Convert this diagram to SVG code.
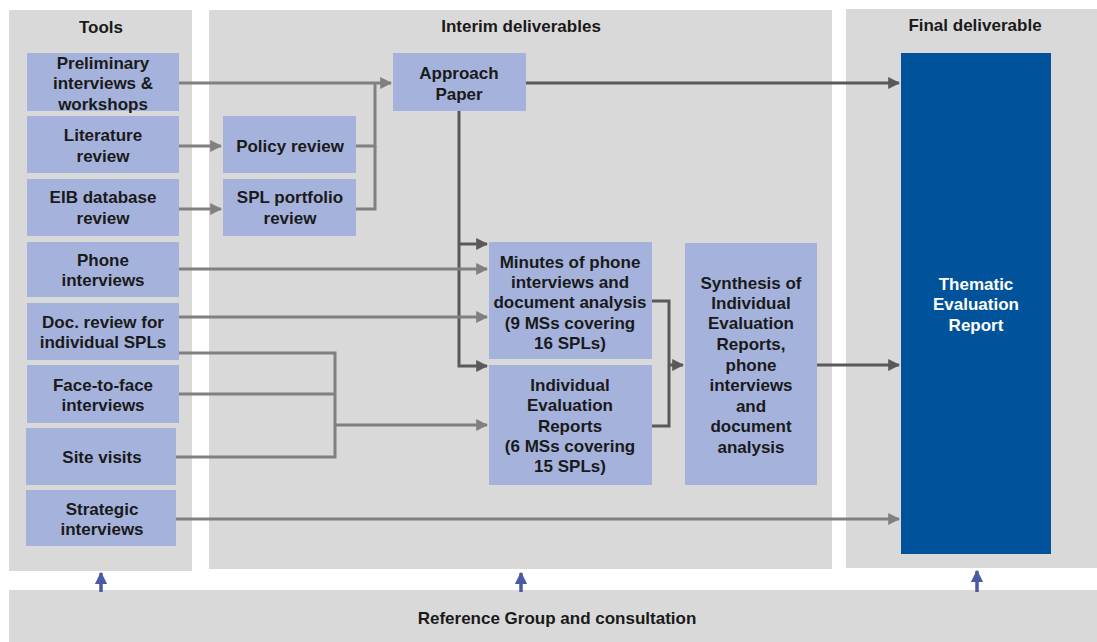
<svg xmlns="http://www.w3.org/2000/svg" width="1097" height="642" viewBox="0 0 1097 642">
<defs>
<style>
.panel{fill:#d9d9d9}
.box{fill:#a5b3dc}
.t{font-family:"Liberation Sans",Arial,sans-serif;font-weight:bold;font-size:17px;fill:#1a1a1a;text-anchor:middle;dominant-baseline:central}
.w{fill:#ffffff}
.lc{fill:none;stroke:#808080;stroke-width:3}
.dc{fill:none;stroke:#595959;stroke-width:3}
.up{fill:none;stroke:#4b5aa5;stroke-width:3.5}
</style>
<marker id="al" viewBox="0 0 10 10" refX="9" refY="5" markerWidth="4" markerHeight="4" orient="auto" markerUnits="strokeWidth"><path d="M0,0 L10,5 L0,10 z" fill="#808080"/></marker>
<marker id="ad" viewBox="0 0 10 10" refX="9" refY="5" markerWidth="4" markerHeight="4" orient="auto" markerUnits="strokeWidth"><path d="M0,0 L10,5 L0,10 z" fill="#595959"/></marker>
<marker id="ab" viewBox="0 0 10 10" refX="9" refY="5" markerWidth="3.5" markerHeight="3.5" orient="auto" markerUnits="strokeWidth"><path d="M0,0 L10,5 L0,10 z" fill="#4b5aa5"/></marker>
</defs>
<rect width="1097" height="642" fill="#ffffff"/>
<g id="panels">
<rect class="panel" x="9" y="10" width="183" height="561"/>
<rect class="panel" x="209" y="10" width="623" height="559"/>
<rect class="panel" x="846" y="9" width="251" height="559"/>
<rect class="panel" x="9" y="590" width="1088" height="52"/>
<text class="t" x="101" y="27">Tools</text>
<text class="t" x="521" y="26">Interim deliverables</text>
<text class="t" x="975" y="25">Final deliverable</text>
<text class="t" x="557" y="618">Reference Group and consultation</text>
</g>
<g id="connectors">
<path class="lc" d="M179,83 H391" marker-end="url(#al)"/>
<path class="lc" d="M356,146 H375 V83"/>
<path class="lc" d="M356,209 H375 V146"/>
<path class="lc" d="M179,146 H221" marker-end="url(#al)"/>
<path class="lc" d="M179,209 H221" marker-end="url(#al)"/>
<path class="dc" d="M526,83 H899" marker-end="url(#ad)"/>
<path class="dc" d="M459,111 V366 H487" marker-end="url(#ad)"/>
<path class="dc" d="M459,244 H487" marker-end="url(#ad)"/>
<path class="lc" d="M179,269 H487" marker-end="url(#al)"/>
<path class="lc" d="M179,317 H487" marker-end="url(#al)"/>
<path class="lc" d="M179,353 H335 V457 H176"/>
<path class="lc" d="M179,394 H335"/>
<path class="lc" d="M335,425 H487" marker-end="url(#al)"/>
<path class="lc" d="M176,519 H899" marker-end="url(#al)"/>
<path class="dc" d="M652,301 H669 V426 H652"/>
<path class="dc" d="M669,365 H683" marker-end="url(#ad)"/>
<path class="dc" d="M817,365 H899" marker-end="url(#ad)"/>
<path class="up" d="M101,592 V573" marker-end="url(#ab)"/>
<path class="up" d="M521,592 V573" marker-end="url(#ab)"/>
<path class="up" d="M977,592 V571" marker-end="url(#ab)"/>
</g>
<g id="n-prelim"><rect class="box" x="27" y="53" width="152" height="58"/><text class="t" x="103" y="63">Preliminary</text><text class="t" x="103" y="83">interviews &amp;</text><text class="t" x="103" y="104">workshops</text></g>
<g id="n-lit"><rect class="box" x="27" y="116" width="152" height="57"/><text class="t" x="103" y="135">Literature</text><text class="t" x="103" y="156">review</text></g>
<g id="n-eib"><rect class="box" x="27" y="179" width="152" height="57"/><text class="t" x="103" y="197">EIB database</text><text class="t" x="103" y="218">review</text></g>
<g id="n-phone"><rect class="box" x="27" y="242" width="152" height="55"/><text class="t" x="103" y="260">Phone</text><text class="t" x="103" y="280">interviews</text></g>
<g id="n-doc"><rect class="box" x="27" y="303" width="152" height="57"/><text class="t" x="103" y="322">Doc. review for</text><text class="t" x="103" y="342">individual SPLs</text></g>
<g id="n-f2f"><rect class="box" x="27" y="365" width="152" height="58"/><text class="t" x="103" y="385">Face-to-face</text><text class="t" x="103" y="405">interviews</text></g>
<g id="n-site"><rect class="box" x="26" y="428" width="150" height="57"/><text class="t" x="102" y="457">Site visits</text></g>
<g id="n-strat"><rect class="box" x="26" y="490" width="150" height="56"/><text class="t" x="102" y="509">Strategic</text><text class="t" x="102" y="529">interviews</text></g>
<g id="n-policy"><rect class="box" x="223" y="116" width="133" height="57"/><text class="t" x="290" y="146">Policy review</text></g>
<g id="n-spl"><rect class="box" x="223" y="179" width="133" height="57"/><text class="t" x="290" y="197">SPL portfolio</text><text class="t" x="290" y="218">review</text></g>
<g id="n-approach"><rect class="box" x="393" y="53" width="133" height="58"/><text class="t" x="459" y="73">Approach</text><text class="t" x="459" y="94">Paper</text></g>
<g id="n-minutes"><rect class="box" x="489" y="242" width="163" height="117"/><text class="t" x="570" y="262">Minutes of phone</text><text class="t" x="570" y="282">interviews and</text><text class="t" x="570" y="302">document analysis</text><text class="t" x="570" y="323">(9 MSs covering</text><text class="t" x="570" y="343">16 SPLs)</text></g>
<g id="n-ier"><rect class="box" x="489" y="365" width="163" height="120"/><text class="t" x="570" y="385">Individual</text><text class="t" x="570" y="405">Evaluation</text><text class="t" x="570" y="426">Reports</text><text class="t" x="570" y="446">(6 MSs covering</text><text class="t" x="570" y="466">15 SPLs)</text></g>
<g id="n-synth"><rect class="box" x="685" y="243" width="132" height="242"/><text class="t" x="751" y="283">Synthesis of</text><text class="t" x="751" y="303">Individual</text><text class="t" x="751" y="323">Evaluation</text><text class="t" x="751" y="344">Reports,</text><text class="t" x="751" y="365">phone</text><text class="t" x="751" y="385">interviews</text><text class="t" x="751" y="406">and</text><text class="t" x="751" y="426">document</text><text class="t" x="751" y="447">analysis</text></g>
<g id="n-final"><rect x="901" y="53" width="150" height="501" fill="#00529b"/><text class="t w" x="976" y="284">Thematic</text><text class="t w" x="976" y="304">Evaluation</text><text class="t w" x="976" y="325">Report</text></g>
</svg>
